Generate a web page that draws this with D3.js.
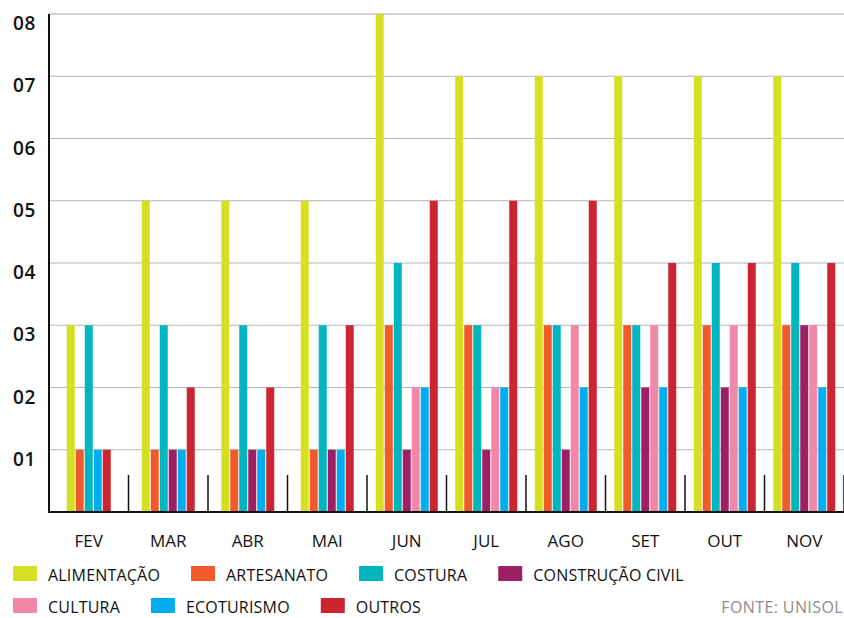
<!DOCTYPE html>
<html>
<head>
<meta charset="utf-8">
<script src="https://cdn.jsdelivr.net/npm/d3@7"></script>
<style>
  html, body { margin: 0; padding: 0; background: #fff; }
  svg { display: block; }
  text { font-family: "Open Sans", "DejaVu Sans", sans-serif; }
</style>
</head>
<body>
<svg id="chart" width="844" height="618"></svg>
<script>
// Empreendimentos por setor, mês a mês
const months = ["FEV", "MAR", "ABR", "MAI", "JUN", "JUL", "AGO", "SET", "OUT", "NOV"];
const sectors = ["ALIMENTAÇÃO", "ARTESANATO", "COSTURA", "CONSTRUÇÃO CIVIL", "CULTURA", "ECOTURISMO", "OUTROS"];
const colors = ["#d7df23", "#f15a2b", "#00b5bd", "#9e1f63", "#f288a8", "#00aeef", "#cb2630"];

const alimentacao     = [3, 5, 5, 5, 8, 7, 7, 7, 7, 7];
const artesanato      = [1, 1, 1, 1, 3, 3, 3, 3, 3, 3];
const costura         = [3, 3, 3, 3, 4, 3, 3, 3, 4, 4];
const construcaoCivil = [0, 1, 1, 1, 1, 1, 1, 2, 2, 3];
const cultura         = [0, 0, 0, 0, 2, 2, 3, 3, 3, 3];
const ecoturismo      = [1, 1, 1, 1, 2, 2, 2, 2, 2, 2];
const outros          = [1, 2, 2, 3, 5, 5, 5, 4, 4, 4];

const yTicks = [1, 2, 3, 4, 5, 6, 7, 8];
const yTickLabels = ["01", "02", "03", "04", "05", "06", "07", "08"];
const source = "FONTE: UNISOL";

const seriesValues = [alimentacao, artesanato, costura, construcaoCivil, cultura, ecoturismo, outros];

const svg = d3.select("#chart");
const plotLeft = 49, plotRight = 844, plotTop = 14, plotBottom = 512;

const x = d3.scaleBand().domain(months).range([plotLeft, plotRight]).padding(0);
const y = d3.scaleLinear().domain([0, 8]).range([plotBottom, plotTop]);

// gridlines
svg.append("g").selectAll("line")
  .data(yTicks)
  .join("line")
  .attr("x1", plotLeft).attr("x2", plotRight)
  .attr("y1", d => y(d)).attr("y2", d => y(d))
  .attr("stroke", d => d === 8 ? "#d2d2d2" : "#b4b4b4")
  .attr("stroke-width", d => d === 8 ? 2 : 1.2);

// y labels
svg.append("g").selectAll("text")
  .data(yTicks)
  .join("text")
  .attr("x", 36)
  .attr("y", d => y(d) + 16)
  .attr("text-anchor", "end")
  .attr("font-size", 19)
  .attr("font-weight", 600)
  .attr("letter-spacing", 0.6)
  .attr("fill", "#111")
  .text((d, i) => yTickLabels[i]);

// bars: per month only non-zero sectors are drawn, packed and centred in the band
const barW = 8, barStep = 9;
const barsG = svg.append("g");
months.forEach((m, mi) => {
  const present = sectors.map((s, si) => ({ si, v: seriesValues[si][mi] })).filter(d => d.v > 0);
  const total = present.length * barStep - 1;
  const x0 = x(m) + x.bandwidth() / 2 - total / 2;
  barsG.append("g").selectAll("rect")
    .data(present)
    .join("rect")
    .attr("x", (d, i) => x0 + i * barStep)
    .attr("y", d => y(d.v))
    .attr("width", barW)
    .attr("height", d => y(0) - y(d.v))
    .attr("fill", d => colors[d.si]);
});

// separators between months
svg.append("g").selectAll("line")
  .data(months)
  .join("line")
  .attr("x1", d => x(d) + x.bandwidth())
  .attr("x2", d => x(d) + x.bandwidth())
  .attr("y1", plotBottom - 37).attr("y2", plotBottom)
  .attr("stroke", "#111").attr("stroke-width", 1.5);

// axis lines
svg.append("line")
  .attr("x1", plotLeft).attr("x2", plotLeft).attr("y1", plotTop).attr("y2", plotBottom + 1)
  .attr("stroke", "#111").attr("stroke-width", 2);
svg.append("line")
  .attr("x1", plotLeft - 1).attr("x2", plotRight).attr("y1", plotBottom).attr("y2", plotBottom)
  .attr("stroke", "#111").attr("stroke-width", 2.2);

// month labels
svg.append("g").selectAll("text")
  .data(months)
  .join("text")
  .attr("x", d => x(d) + x.bandwidth() / 2)
  .attr("y", 547)
  .attr("text-anchor", "middle")
  .attr("font-size", 17)
  .attr("fill", "#111")
  .text(d => d);

// legend
const legendRows = [[0, 1, 2, 3], [4, 5, 6]];
const rowY = [581, 613];
legendRows.forEach((row, ri) => {
  let cx = 13;
  row.forEach(si => {
    svg.append("rect")
      .attr("x", cx).attr("y", rowY[ri] - 15)
      .attr("width", 24).attr("height", 15)
      .attr("fill", colors[si]);
    const t = svg.append("text")
      .attr("x", cx + 35).attr("y", rowY[ri])
      .attr("font-size", 16)
      .attr("letter-spacing", 0.2)
      .attr("fill", "#111")
      .text(sectors[si]);
    cx = cx + 35 + t.node().getComputedTextLength() + 31;
  });
});

svg.append("text")
  .attr("x", 843).attr("y", 613)
  .attr("text-anchor", "end")
  .attr("font-size", 16)
  .attr("letter-spacing", 0.4)
  .attr("fill", "#8c8c8c")
  .text(source);
</script>
</body>
</html>
